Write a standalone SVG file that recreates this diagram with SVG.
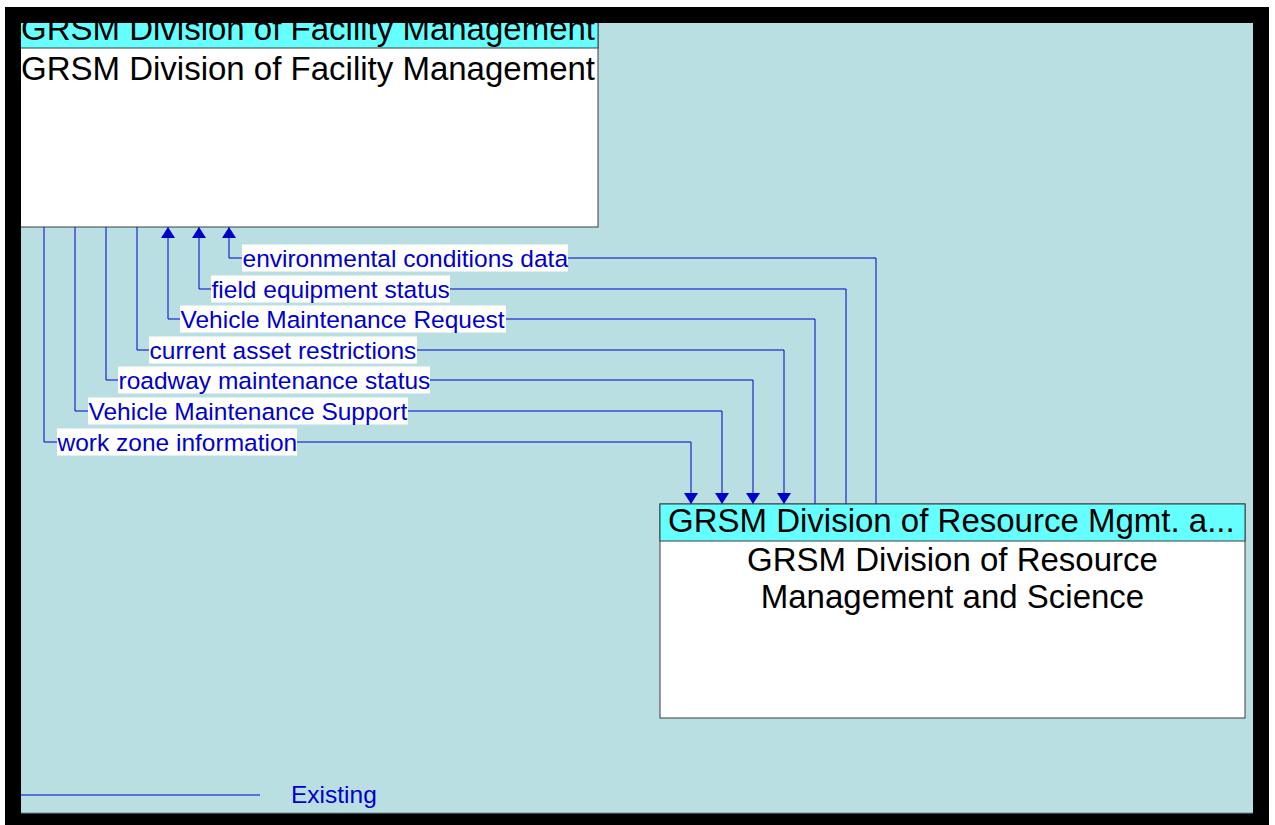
<svg xmlns="http://www.w3.org/2000/svg" width="1275" height="825" viewBox="0 0 1275 825">
  <style>
    .frame { fill: #000000; }
    .canvas { fill: #BADFE2; }
    .node-body { fill: #FFFFFF; stroke: #3C3C3C; stroke-width: 1; }
    .node-head { fill: #66FFFF; stroke: #3C3C3C; stroke-width: 1; }
    .node-text { font-family: "Liberation Sans", Arial, sans-serif; font-size: 33px; fill: #000000; }
    .flow { fill: none; stroke: #0000CC; stroke-width: 1; }
    .flow-label-bg { fill: #FFFFFF; }
    .flow-label { font-family: "Liberation Sans", Arial, sans-serif; font-size: 24.5px; fill: #0000CC; }
  </style>
  <defs>
    <clipPath id="canvas-clip">
      <rect x="21" y="23" width="1232" height="790"/>
    </clipPath>
    <!-- filled triangular arrowhead, drawn pointing along the path direction -->
    <marker id="arrow" viewBox="0 0 11 14" refX="11" refY="7" markerWidth="11" markerHeight="14" markerUnits="userSpaceOnUse" orient="auto">
      <path d="M0,0 L11,7 L0,14 Z" fill="#0000CC"/>
    </marker>
  </defs>

  <!-- outer frame and drawing area -->
  <rect class="frame" x="5" y="7" width="1264" height="818"/>
  <rect class="canvas" x="21" y="23" width="1232" height="790"/>
  <line x1="21" y1="813" x2="1253" y2="813" stroke="#6E8C8E" stroke-width="1"/>

  <g clip-path="url(#canvas-clip)">
    <!-- connectors -->
    <g id="connectors">
      <!-- Facility Management -> Resource Management and Science -->
      <polyline class="flow" points="44,227 44,442 691,442 691,504" marker-end="url(#arrow)"/>
      <polyline class="flow" points="75,227 75,411 722,411 722,504" marker-end="url(#arrow)"/>
      <polyline class="flow" points="106,227 106,380 753,380 753,504" marker-end="url(#arrow)"/>
      <polyline class="flow" points="137,227 137,350 784,350 784,504" marker-end="url(#arrow)"/>
      <!-- Resource Management and Science -> Facility Management -->
      <polyline class="flow" points="815,504 815,319 168,319 168,227" marker-end="url(#arrow)"/>
      <polyline class="flow" points="846,504 846,289 199,289 199,227" marker-end="url(#arrow)"/>
      <polyline class="flow" points="876,504 876,258 229,258 229,227" marker-end="url(#arrow)"/>

      <!-- flow labels -->
      <rect class="flow-label-bg" x="242" y="244.5" width="326" height="27"/>
      <text class="flow-label" x="242.5" y="266.5">environmental conditions data</text>
      <rect class="flow-label-bg" x="211" y="275.5" width="239" height="27"/>
      <text class="flow-label" x="211.5" y="297.5">field equipment status</text>
      <rect class="flow-label-bg" x="180" y="305.5" width="326" height="27"/>
      <text class="flow-label" x="180.5" y="327.5">Vehicle Maintenance Request</text>
      <rect class="flow-label-bg" x="149" y="336.5" width="268" height="27"/>
      <text class="flow-label" x="149.5" y="358.5">current asset restrictions</text>
      <rect class="flow-label-bg" x="118" y="366.5" width="312" height="27"/>
      <text class="flow-label" x="118.5" y="388.5">roadway maintenance status</text>
      <rect class="flow-label-bg" x="88" y="397.5" width="320" height="27"/>
      <text class="flow-label" x="88.5" y="419.5">Vehicle Maintenance Support</text>
      <rect class="flow-label-bg" x="57" y="428.5" width="240" height="27"/>
      <text class="flow-label" x="57.5" y="450.5">work zone information</text>
    </g>

    <!-- GRSM Division of Facility Management -->
    <g id="facility-management">
      <rect class="node-body" x="15" y="10" width="583" height="217"/>
      <rect class="node-head" x="15" y="10" width="583" height="38"/>
      <text class="node-text" x="21" y="40">GRSM Division of Facility Management</text>
      <text class="node-text" x="21" y="80">GRSM Division of Facility Management</text>
    </g>

    <!-- GRSM Division of Resource Management and Science -->
    <g id="resource-management">
      <rect class="node-body" x="660" y="504" width="585" height="214"/>
      <rect class="node-head" x="660" y="504" width="585" height="37"/>
      <text class="node-text" x="668" y="532">GRSM Division of Resource Mgmt. a...</text>
      <text class="node-text" x="952.5" y="571" text-anchor="middle">GRSM Division of Resource</text>
      <text class="node-text" x="952.5" y="608" text-anchor="middle">Management and Science</text>
    </g>

    <!-- legend -->
    <g id="legend">
      <line class="flow" x1="21" y1="795" x2="260" y2="795"/>
      <text class="flow-label" x="291" y="803">Existing</text>
    </g>
  </g>
</svg>
